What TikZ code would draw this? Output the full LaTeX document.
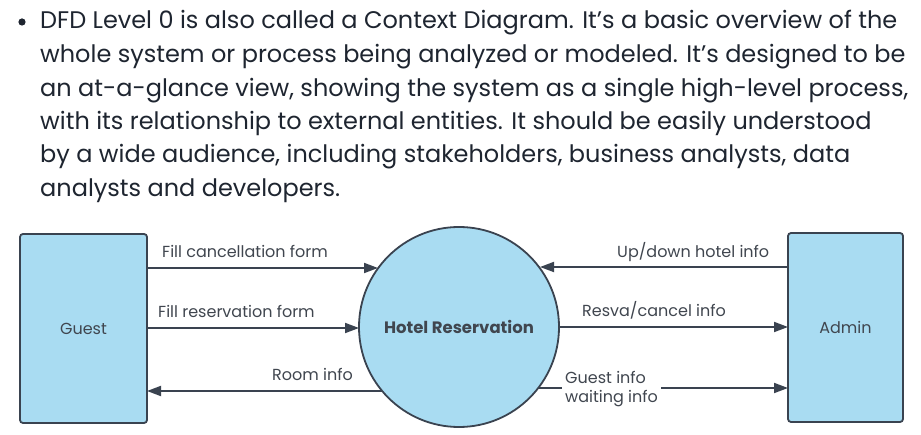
\documentclass[tikz,border=0pt]{standalone}
\usepackage{fontspec}
\setmainfont{Poppins}
\usetikzlibrary{arrows.meta}
\definecolor{txt}{HTML}{1E2530}
\definecolor{strk}{HTML}{3A4350}
\definecolor{fillb}{HTML}{A9DCF2}
\tikzset{
  para/.style={anchor=base west, inner sep=0pt, text=txt, font=\fontsize{24}{28}\selectfont},
  entity/.style={draw=strk, line width=1.8pt, fill=fillb, rounded corners=3pt, inner sep=0pt},
  proc/.style={circle, draw=strk, line width=1.8pt, fill=fillb, inner sep=0pt, minimum size=200pt},
  flow/.style={draw=strk, line width=1.8pt, -{Triangle[length=14pt,width=10pt]}},
  lbl/.style={text=txt!85, font=\fontsize{16}{19}\selectfont, inner sep=0pt},
}
\begin{document}
\begin{tikzpicture}[x=1pt,y=-1pt]
\useasboundingbox[fill=white] (0,0) rectangle (921,435);
\fill[txt] (22,22) circle (3.6pt);
\node[para] (l1) at (40,29) {DFD Level 0 is also called a Context Diagram. It’s a basic overview of the};
\node[para] (l2) at (40,63) {whole system or process being analyzed or modeled. It’s designed to be};
\node[para] (l3) at (40,97) {an at-a-glance view, showing the system as a single high-level process,};
\node[para] (l4) at (40,130) {with its relationship to external entities. It should be easily understood};
\node[para] (l5) at (40,163) {by a wide audience, including stakeholders, business analysts, data};
\node[para] (l6) at (40,197) {analysts and developers.};
% diagram
\node[entity, minimum width=127pt, minimum height=189pt, font=\fontsize{16}{19}\selectfont, text=txt!85] (guest) at (83.5,328.5) {Guest};
\node[entity, minimum width=115pt, minimum height=189pt, font=\fontsize{16}{19}\selectfont, text=txt!85] (admin) at (845.5,327.5) {Admin};
\node[proc, font=\bfseries\fontsize{16.5}{19}\selectfont, text=txt!85] (hr) at (459,327) {Hotel Reservation};
% flows
\coordinate (g1) at (147,268);
\coordinate (g2) at (147,328);
\coordinate (g3) at (147,391);
\coordinate (a1) at (788,267);
\coordinate (a2) at (788,327);
\coordinate (a3) at (788,388);
\coordinate (h1) at (378,268);
\coordinate (h2) at (359,328);
\coordinate (h3) at (382,391);
\coordinate (h4) at (540,267);
\coordinate (h5) at (559,327);
\coordinate (h6) at (538,388);
\draw[flow] (g1) -- (h1);
\draw[flow] (g2) -- (h2);
\draw[flow] (h3) -- (g3);
\draw[flow] (a1) -- (h4);
\draw[flow] (h5) -- (a2);
\draw[flow] (h6) -- (a3);
\node[lbl, anchor=base west] (t1) at (162,258) {Fill cancellation form};
\node[lbl, anchor=base west] (t2) at (158,318) {Fill reservation form};
\node[lbl, anchor=base west] (t3) at (272,381) {Room info};
\node[lbl, anchor=base west] (t4) at (617,258) {Up/down hotel info};
\node[lbl, anchor=base west] (t5) at (582,317) {Resva/cancel info};
\node[lbl, fill=white, inner xsep=3pt, inner ysep=2pt, align=left, anchor=west] (t6) at (562,389) {Guest info\\waiting info};
\end{tikzpicture}
\end{document}
